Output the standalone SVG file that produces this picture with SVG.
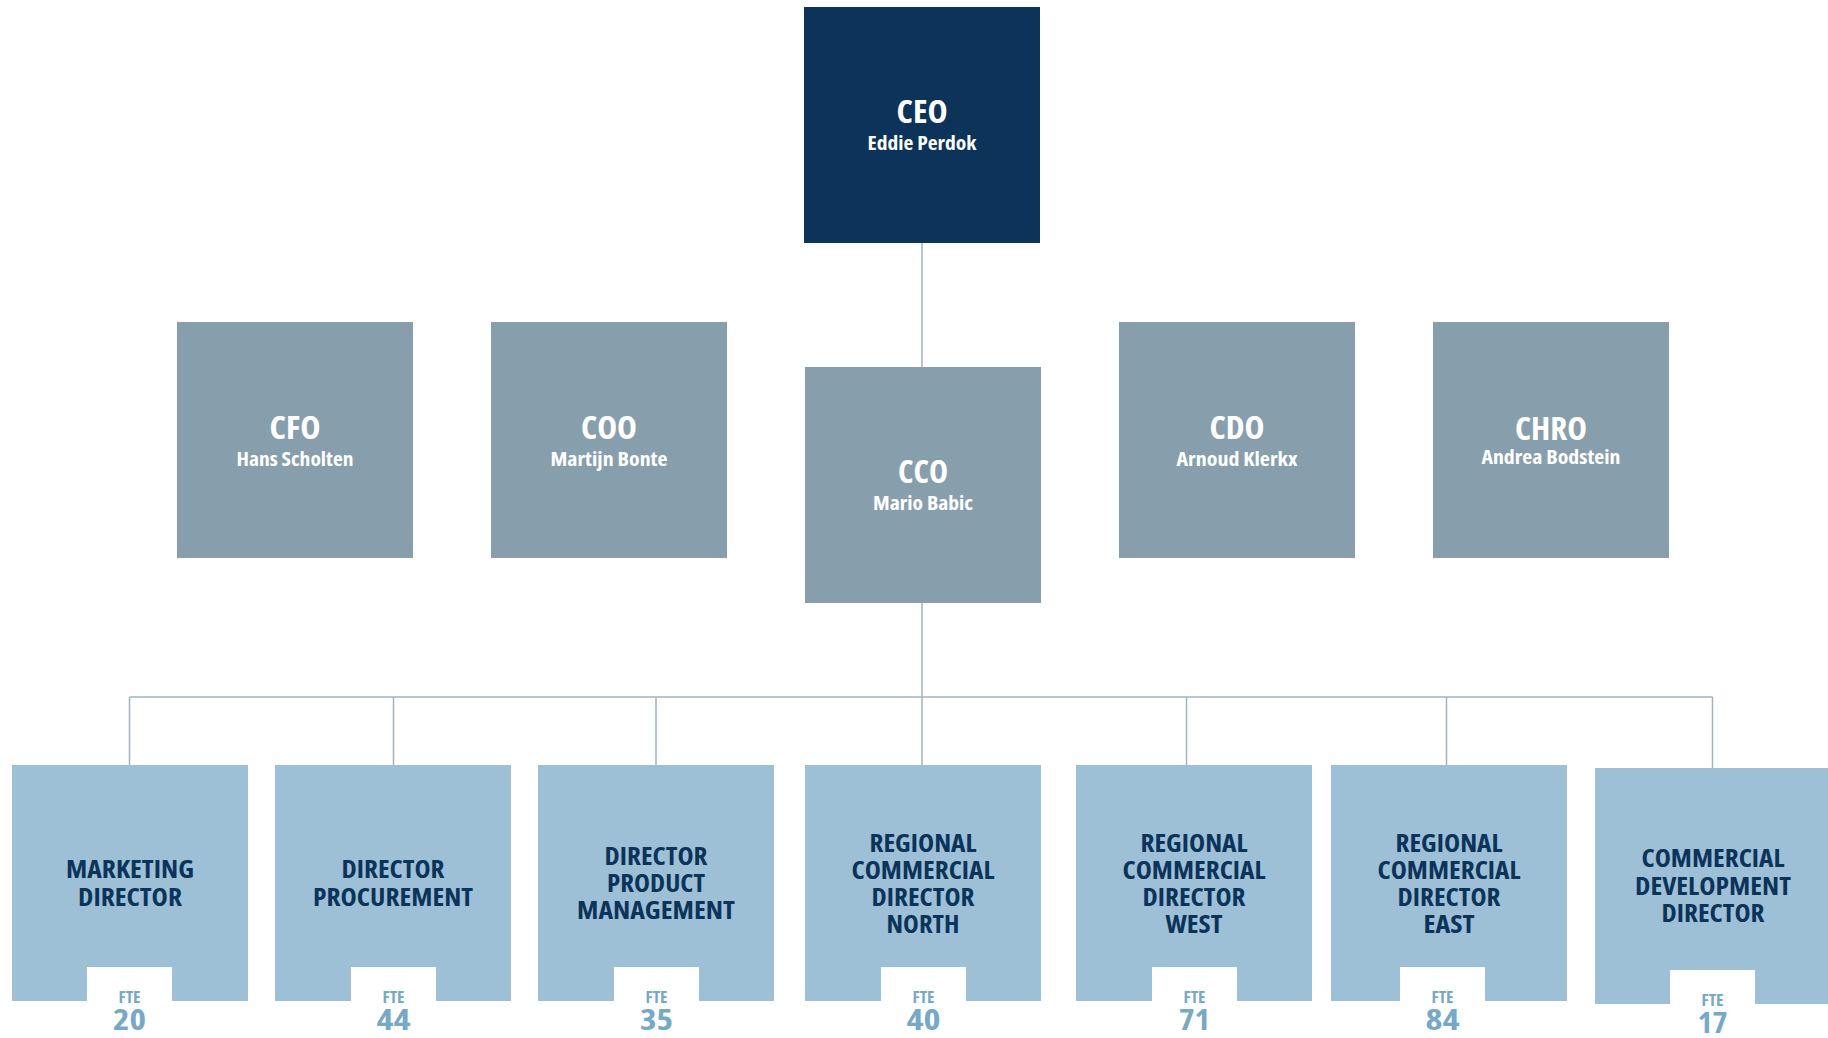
<svg xmlns="http://www.w3.org/2000/svg" width="1828" height="1038" viewBox="0 0 1828 1038">
<style>
text{font-family:"Open Sans","Noto Sans","Liberation Sans",sans-serif;font-weight:700;font-stretch:condensed;text-anchor:middle}
.exec{fill:#0c335a}
.mid{fill:#879fac}
.low{fill:#9dc0d6}
.notch{fill:#ffffff}
.title{fill:#ffffff;font-size:32px}
.name{fill:#ffffff;font-size:19px}
.role{fill:#0c335a;font-size:25.5px}
.fte{fill:#74a9c8;font-size:16px}
.num{fill:#74a9c8;font-size:28px}
.conn{stroke:#9fb3c0;stroke-width:1.5;fill:none}
</style>
<rect width="1828" height="1038" fill="#ffffff"/>
<g id="connectors">
<path class="conn" d="M922 243V367"/>
<path class="conn" d="M922 603V697"/>
<path class="conn" d="M129.5 697H1712.5"/>
<path class="conn" d="M129.5 697V765"/>
<path class="conn" d="M393.5 697V765"/>
<path class="conn" d="M656 697V765"/>
<path class="conn" d="M922 697V765"/>
<path class="conn" d="M1186.5 697V765"/>
<path class="conn" d="M1446.5 697V765"/>
<path class="conn" d="M1712.5 697V768"/>
</g>
<g id="ceo">
<rect class="exec" x="804" y="7" width="236" height="236"/>
<text class="title" x="922" y="123" textLength="51" lengthAdjust="spacingAndGlyphs">CEO</text>
<text class="name" x="922" y="150" textLength="109" lengthAdjust="spacingAndGlyphs">Eddie Perdok</text>
</g>
<g id="cfo">
<rect class="mid" x="177" y="322" width="236" height="236"/>
<text class="title" x="295" y="439" textLength="51" lengthAdjust="spacingAndGlyphs">CFO</text>
<text class="name" x="295" y="466" textLength="117" lengthAdjust="spacingAndGlyphs">Hans Scholten</text>
</g>
<g id="coo">
<rect class="mid" x="491" y="322" width="236" height="236"/>
<text class="title" x="609" y="439" textLength="56" lengthAdjust="spacingAndGlyphs">COO</text>
<text class="name" x="609" y="466" textLength="117" lengthAdjust="spacingAndGlyphs">Martijn Bonte</text>
</g>
<g id="cco">
<rect class="mid" x="805" y="367" width="236" height="236"/>
<text class="title" x="923" y="483" textLength="50" lengthAdjust="spacingAndGlyphs">CCO</text>
<text class="name" x="923" y="510" textLength="100" lengthAdjust="spacingAndGlyphs">Mario Babic</text>
</g>
<g id="cdo">
<rect class="mid" x="1119" y="322" width="236" height="236"/>
<text class="title" x="1237" y="439" textLength="55" lengthAdjust="spacingAndGlyphs">CDO</text>
<text class="name" x="1237" y="466" textLength="121" lengthAdjust="spacingAndGlyphs">Arnoud Klerkx</text>
</g>
<g id="chro">
<rect class="mid" x="1433" y="322" width="236" height="236"/>
<text class="title" x="1551" y="440" textLength="72" lengthAdjust="spacingAndGlyphs">CHRO</text>
<text class="name" x="1551" y="464" textLength="139" lengthAdjust="spacingAndGlyphs">Andrea Bodstein</text>
</g>
<g id="marketing-director">
<rect class="low" x="12" y="765" width="236" height="236"/>
<rect class="notch" x="87" y="967" width="85" height="34"/>
<text class="role" x="130" y="878" textLength="128" lengthAdjust="spacingAndGlyphs">MARKETING</text>
<text class="role" x="130" y="906" textLength="104" lengthAdjust="spacingAndGlyphs">DIRECTOR</text>
<text class="fte" x="129.5" y="1003" textLength="22" lengthAdjust="spacingAndGlyphs">FTE</text>
<text class="num" x="129.5" y="1030" textLength="33" lengthAdjust="spacingAndGlyphs">20</text>
</g>
<g id="director-procurement">
<rect class="low" x="275" y="765" width="236" height="236"/>
<rect class="notch" x="351" y="967" width="85" height="34"/>
<text class="role" x="393" y="878" textLength="103" lengthAdjust="spacingAndGlyphs">DIRECTOR</text>
<text class="role" x="393" y="906" textLength="160" lengthAdjust="spacingAndGlyphs">PROCUREMENT</text>
<text class="fte" x="393.5" y="1003" textLength="22" lengthAdjust="spacingAndGlyphs">FTE</text>
<text class="num" x="393.5" y="1030" textLength="34" lengthAdjust="spacingAndGlyphs">44</text>
</g>
<g id="director-product-management">
<rect class="low" x="538" y="765" width="236" height="236"/>
<rect class="notch" x="614" y="967" width="85" height="34"/>
<text class="role" x="656" y="865" textLength="103" lengthAdjust="spacingAndGlyphs">DIRECTOR</text>
<text class="role" x="656" y="892" textLength="98" lengthAdjust="spacingAndGlyphs">PRODUCT</text>
<text class="role" x="656" y="919" textLength="158" lengthAdjust="spacingAndGlyphs">MANAGEMENT</text>
<text class="fte" x="656.5" y="1003" textLength="22" lengthAdjust="spacingAndGlyphs">FTE</text>
<text class="num" x="656.5" y="1030" textLength="33" lengthAdjust="spacingAndGlyphs">35</text>
</g>
<g id="regional-commercial-director-north">
<rect class="low" x="805" y="765" width="236" height="236"/>
<rect class="notch" x="881" y="967" width="85" height="34"/>
<text class="role" x="923" y="852" textLength="107" lengthAdjust="spacingAndGlyphs">REGIONAL</text>
<text class="role" x="923" y="879" textLength="143" lengthAdjust="spacingAndGlyphs">COMMERCIAL</text>
<text class="role" x="923" y="906" textLength="103" lengthAdjust="spacingAndGlyphs">DIRECTOR</text>
<text class="role" x="923" y="933" textLength="73" lengthAdjust="spacingAndGlyphs">NORTH</text>
<text class="fte" x="923.5" y="1003" textLength="22" lengthAdjust="spacingAndGlyphs">FTE</text>
<text class="num" x="923.5" y="1030" textLength="34" lengthAdjust="spacingAndGlyphs">40</text>
</g>
<g id="regional-commercial-director-west">
<rect class="low" x="1076" y="765" width="236" height="236"/>
<rect class="notch" x="1152" y="967" width="85" height="34"/>
<text class="role" x="1194" y="852" textLength="107" lengthAdjust="spacingAndGlyphs">REGIONAL</text>
<text class="role" x="1194" y="879" textLength="143" lengthAdjust="spacingAndGlyphs">COMMERCIAL</text>
<text class="role" x="1194" y="906" textLength="103" lengthAdjust="spacingAndGlyphs">DIRECTOR</text>
<text class="role" x="1194" y="933" textLength="57" lengthAdjust="spacingAndGlyphs">WEST</text>
<text class="fte" x="1194.5" y="1003" textLength="22" lengthAdjust="spacingAndGlyphs">FTE</text>
<text class="num" x="1194.5" y="1030" textLength="31" lengthAdjust="spacingAndGlyphs">71</text>
</g>
<g id="regional-commercial-director-east">
<rect class="low" x="1331" y="765" width="236" height="236"/>
<rect class="notch" x="1400" y="967" width="85" height="34"/>
<text class="role" x="1449" y="852" textLength="107" lengthAdjust="spacingAndGlyphs">REGIONAL</text>
<text class="role" x="1449" y="879" textLength="143" lengthAdjust="spacingAndGlyphs">COMMERCIAL</text>
<text class="role" x="1449" y="906" textLength="103" lengthAdjust="spacingAndGlyphs">DIRECTOR</text>
<text class="role" x="1449" y="933" textLength="51" lengthAdjust="spacingAndGlyphs">EAST</text>
<text class="fte" x="1442.5" y="1003" textLength="22" lengthAdjust="spacingAndGlyphs">FTE</text>
<text class="num" x="1442.5" y="1030" textLength="34" lengthAdjust="spacingAndGlyphs">84</text>
</g>
<g id="commercial-development-director">
<rect class="low" x="1595" y="768" width="236" height="236"/>
<rect class="notch" x="1670" y="970" width="85" height="34"/>
<text class="role" x="1713" y="867" textLength="143" lengthAdjust="spacingAndGlyphs">COMMERCIAL</text>
<text class="role" x="1713" y="895" textLength="156" lengthAdjust="spacingAndGlyphs">DEVELOPMENT</text>
<text class="role" x="1713" y="922" textLength="103" lengthAdjust="spacingAndGlyphs">DIRECTOR</text>
<text class="fte" x="1712.5" y="1006" textLength="22" lengthAdjust="spacingAndGlyphs">FTE</text>
<text class="num" x="1712.5" y="1033" textLength="30" lengthAdjust="spacingAndGlyphs">17</text>
</g>
</svg>
